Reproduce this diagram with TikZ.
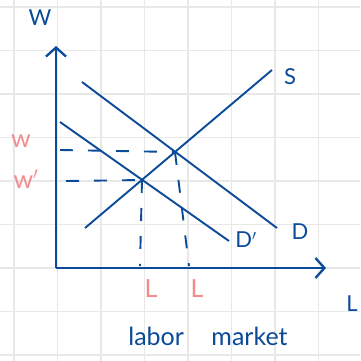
\documentclass[tikz,border=0pt]{standalone}
\usepackage{fontspec}
\setmainfont{Lato}
\usetikzlibrary{arrows.meta}

\definecolor{inkblue}{HTML}{0B4A99}
\definecolor{inkpink}{HTML}{F28C8C}

\tikzset{
  curve/.style={draw=inkblue, line width=1.9pt},
  axis/.style={draw=inkblue, line width=2.3pt, -{Straight Barb[length=9pt,width=20pt,line width=2.3pt]}},
  guide/.style={draw=inkblue, line width=1.9pt, dash pattern=on 13pt off 15pt},
  bluetext/.style={text=inkblue, inner sep=0pt},
  pinktext/.style={text=inkpink, inner sep=0pt}
}

\begin{document}
\begin{tikzpicture}[x=1pt, y=-1pt]

        % page and grid
        \useasboundingbox (0,0) rectangle (360,361);
        \fill[white] (0,0) rectangle (360,361);
        \foreach \k in {0,...,8} {
            \draw[gray!18, line width=1.2pt] (14+43.5*\k,0) -- (14+43.5*\k,361);
            \draw[gray!18, line width=1.2pt] (0,7+43.5*\k) -- (360,7+43.5*\k);
        }

        % axes
        \coordinate (O) at (56,268);
        \coordinate (Wtop) at (56,46);
        \coordinate (Lend) at (326,268);
        \draw[axis] (O) -- (Wtop);
        \draw[axis] (O) -- (Lend);
        \node[bluetext, font=\fontsize{22}{22}\selectfont] (W) at (40,18) {W};
        \node[bluetext, font=\fontsize{22}{22}\selectfont] (L) at (352,304) {L};

        % supply and the two demand curves
        \coordinate (S1) at (85,228);
        \coordinate (S2) at (272,70);
        \coordinate (D1) at (82,82);
        \coordinate (D2) at (277,228);
        \coordinate (Dp1) at (60,122);
        \coordinate (Dp2) at (229,241);
        \draw[curve] (S1) -- (S2);
        \draw[curve] (D1) -- (D2);
        \draw[curve] (Dp1) -- (Dp2);
        \node[bluetext, font=\fontsize{22}{22}\selectfont] (Slab) at (290,77) {S};
        \node[bluetext, font=\fontsize{22}{22}\selectfont] (Dlab) at (300,232) {D};
        \node[bluetext, font=\fontsize{22}{22}\selectfont] (Dplab) at (246,240) {D$'$};

        % equilibria
        \coordinate (E) at (175,152);
        \coordinate (Ep) at (142,180);
        \coordinate (wE) at (60,150);
        \coordinate (wEp) at (66,181);
        \coordinate (LE) at (189,266);
        \coordinate (LEp) at (140,266);
        \draw[guide] (wE) -- (E);
        \draw[guide] (wEp) -- (Ep);
        \draw[guide] (E) -- (LE);
        \draw[guide] (Ep) -- (LEp);

        % labels of the equilibria
        \node[pinktext, font=\fontsize{25}{25}\selectfont] (w) at (21,141) {w};
        \node[pinktext, font=\fontsize{25}{25}\selectfont] (wp) at (26,179) {w$'$};
        \node[pinktext, font=\fontsize{25}{25}\selectfont] (Lp) at (151,289) {L};
        \node[pinktext, font=\fontsize{25}{25}\selectfont] (L2) at (197,289) {L};

        % caption
        \node[bluetext, font=\fontsize{25}{25}\selectfont] (cap) at (208,336) {labor\hspace{1.1em}market};

\end{tikzpicture}
\end{document}
